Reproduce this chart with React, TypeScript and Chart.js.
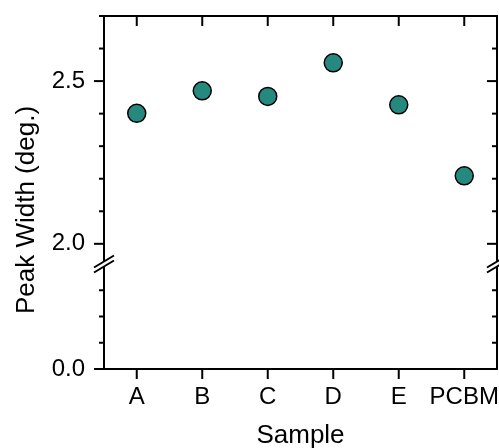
import React, { useEffect, useRef } from 'react';
import { Chart, registerables } from 'chart.js';

Chart.register(...registerables);

// ---- data ----
const categories = ['A', 'B', 'C', 'D', 'E', 'PCBM'];
const peakWidth = [2.401, 2.470, 2.453, 2.556, 2.427, 2.209];

// upper (broken) segment of the y axis
const upperRange = [1.938, 2.7];
const upperLabelTicks = [2.0, 2.5];
const upperMinorTicks = [2.1, 2.2, 2.3, 2.4, 2.6, 2.7];
// lower segment of the y axis
const lowerRange = [0, 2.0];
const lowerLabelTicks = [0.0];
const lowerMinorTicks = [0.5, 1.0, 1.5];

const yTitle = 'Peak Width (deg.)';
const xTitle = 'Sample';

const FONT = '"Liberation Sans", Arial, Helvetica, sans-serif';

const framePlugin = {
  id: 'frame',
  afterDraw(chart: any) {
    const { ctx, chartArea } = chart;
    const { left, right, top, bottom } = chartArea;
    const yU = chart.scales.y;
    const yL = chart.scales.yLow;
    const xs = chart.scales.x;
    const brk = yU.bottom;
    const gap = 2.5;
    ctx.save();
    ctx.strokeStyle = '#000';
    ctx.lineWidth = 2;
    ctx.lineCap = 'butt';
    const line = (x1: number, y1: number, x2: number, y2: number) => {
      ctx.beginPath();
      ctx.moveTo(x1, y1);
      ctx.lineTo(x2, y2);
      ctx.stroke();
    };
    // frame
    line(left - 1, top, right + 1, top);
    line(left - 1, bottom, right + 1, bottom);
    for (const ax of [left, right]) {
      line(ax, top, ax, brk - gap);
      line(ax, brk + gap, ax, bottom);
      // break marks
      line(ax - 10, brk - gap + 6, ax + 10, brk - gap - 6);
      line(ax - 10, brk + gap + 6, ax + 10, brk + gap - 6);
    }
    // y ticks
    const yTick = (scale: any, v: number, len: number) => {
      const py = scale.getPixelForValue(v);
      line(left - len, py, left, py);
      line(right - len, py, right, py);
    };
    upperLabelTicks.forEach((v) => yTick(yU, v, 10));
    upperMinorTicks.forEach((v) => yTick(yU, v, 5));
    lowerLabelTicks.forEach((v) => yTick(yL, v, 10));
    lowerMinorTicks.forEach((v) => yTick(yL, v, 5));
    // x ticks
    categories.forEach((_, i) => {
      const px = xs.getPixelForValue(i);
      line(px, bottom, px, bottom + 10);
      line(px, top, px, top + 10);
    });
    // y title
    ctx.fillStyle = '#000';
    ctx.font = `26px ${FONT}`;
    ctx.textAlign = 'center';
    ctx.textBaseline = 'alphabetic';
    ctx.translate(34, 210);
    ctx.rotate(-Math.PI / 2);
    ctx.fillText(yTitle, 0, 0);
    ctx.restore();
  },
};

export default function App() {
  const ref = useRef<HTMLCanvasElement>(null);
  useEffect(() => {
    document.body.style.margin = '0';
    const tickFont = { family: FONT, size: 24 };
    const chart = new Chart(ref.current!, {
      type: 'line',
      data: {
        labels: categories,
        datasets: [
          {
            data: peakWidth,
            yAxisID: 'y',
            showLine: false,
            pointRadius: 9,
            pointHoverRadius: 9,
            pointBorderWidth: 1.5,
            pointBorderColor: '#000',
            pointBackgroundColor: '#26897f',
            borderColor: '#000',
            backgroundColor: '#26897f',
          },
        ],
      },
      options: {
        animation: false,
        responsive: true,
        maintainAspectRatio: false,
        layout: { autoPadding: false, padding: { top: 16, right: 2, left: 0, bottom: 0 } },
        plugins: { legend: { display: false }, tooltip: { enabled: false } },
        scales: {
          x: {
            type: 'category',
            offset: true,
            grid: { display: false, drawTicks: true, tickLength: 10 },
            border: { display: false },
            ticks: { font: tickFont, color: '#000', padding: 4, maxRotation: 0, minRotation: 0, autoSkip: false },
            title: {
              display: true,
              text: xTitle,
              font: { family: FONT, size: 26 },
              color: '#000',
              padding: { top: 0, bottom: -3 },
            },
            afterFit: (s: any) => {
              s.height = 79;
              s.paddingLeft = 0;
              s.paddingRight = 0;
            },
          },
          yLow: {
            type: 'linear',
            position: 'left',
            stack: 'y',
            stackWeight: 105,
            min: lowerRange[0],
            max: lowerRange[1],
            grid: { display: false, drawTicks: true, tickLength: 10 },
            border: { display: false },
            ticks: { font: tickFont, color: '#000', padding: 9, callback: (v: any) => Number(v).toFixed(1) },
            afterBuildTicks: (s: any) => {
              s.ticks = lowerLabelTicks.map((v) => ({ value: v }));
            },
            afterFit: (s: any) => {
              s.width = 104;
              s.paddingTop = 0;
              s.paddingBottom = 0;
            },
          },
          y: {
            type: 'linear',
            position: 'left',
            stack: 'y',
            stackWeight: 248,
            min: upperRange[0],
            max: upperRange[1],
            grid: { display: false, drawTicks: true, tickLength: 10 },
            border: { display: false },
            ticks: { font: tickFont, color: '#000', padding: 9, callback: (v: any) => Number(v).toFixed(1) },
            afterBuildTicks: (s: any) => {
              s.ticks = upperLabelTicks.map((v) => ({ value: v }));
            },
            afterFit: (s: any) => {
              s.width = 104;
              s.paddingTop = 0;
              s.paddingBottom = 0;
            },
          },
        },
      } as any,
      plugins: [framePlugin],
    });
    return () => chart.destroy();
  }, []);
  return (
    <div style={{ position: 'relative', width: 499, height: 448 }}>
      <canvas ref={ref} />
    </div>
  );
}
